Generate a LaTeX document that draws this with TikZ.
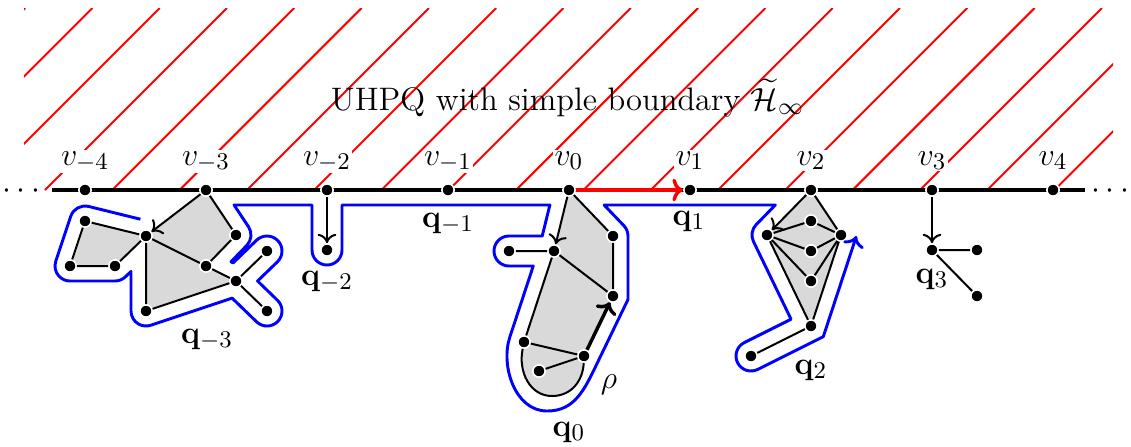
\documentclass[tikz,border=0pt]{standalone}
\usepackage{amsmath,amssymb}
\usetikzlibrary{arrows.meta,backgrounds}
\begin{document}
\begin{tikzpicture}[x=0.375pt,y=-0.375pt,
  font=\fontsize{13}{15}\selectfont,
  dot/.style={circle,fill=black,draw=white,line width=0.6pt,inner sep=0pt,minimum size=4.6pt},
  edge/.style={line width=0.75pt},
  arr/.style={line width=0.75pt,-{To[length=3.5pt,width=7pt]}},
  thickarr/.style={line width=1.3pt,-{To[length=4pt,width=8.5pt]}},
  hatch/.style={red,line width=0.75pt},
  face/.style={fill=black!15},
  contour/.style={blue,line width=1.1pt,line join=round},
  vlab/.style={anchor=base,fill=white,inner sep=0.5pt},
  qlab/.style={anchor=base,inner sep=0pt}]
\useasboundingbox (0,0) rectangle (1131,446);

% hatching of the upper half plane
\begin{scope}
  \clip (24,8) rectangle (1113,190);
  \foreach \k in {0,...,18}{
    \pgfmathsetmacro{\hc}{33.1+67.3*\k}
    \draw[hatch] ({\hc-190},190) -- ({\hc-8},8);
  }
\end{scope}

\node[anchor=base,font=\fontsize{12.2}{14}\selectfont] (title) at (567.5,110) {UHPQ with simple boundary $\widetilde{\mathcal{H}}_\infty$};

% boundary line
\coordinate (bl) at (52,190);
\coordinate (br) at (1085,190);
\draw[line width=1.25pt] (bl) -- (br);
\node[anchor=base,inner sep=0pt] (ldots) at (24,198) {$\cdots$};
\node[anchor=base,inner sep=0pt] (rdots) at (1113,198) {$\cdots$};

% boundary vertices
\foreach \n/\x/\l in {vm4/85/-4, vm3/206/-3, vm2/327/-2, vm1/448/-1, v0/569/0, v1/690/1, v2/811/2, v3/932/3, v4/1053/4}{
  \node[vlab] (lab\n) at (\x,165) {$v_{\l}$};
  \node[dot] (\n) at (\x,190) {};
}

% q_{-3}
\node[dot] (A) at (85,221) {};
\node[dot] (B) at (146,236) {};
\node[dot] (C) at (70,266) {};
\node[dot] (D) at (115,266) {};
\node[dot] (E) at (236,235) {};
\node[dot] (F) at (206,266) {};
\node[dot] (G) at (236,281) {};
\node[dot] (H) at (267,251) {};
\node[dot] (I) at (267,311) {};
\node[dot] (J) at (146,311) {};
% q_{-2}
\node[dot] (Z) at (327,250) {};
% q_0
\node[dot] (K) at (554,251) {};
\node[dot] (L) at (509,251) {};
\node[dot] (M) at (613,236) {};
\node[dot] (N) at (613,296) {};
\node[dot] (O) at (524,342) {};
\node[dot] (P) at (584,356) {};
\node[dot] (Q) at (539,371) {};
% q_2
\node[dot] (R) at (767,235) {};
\node[dot] (S) at (841,235) {};
\node[dot] (T1) at (811,221) {};
\node[dot] (T2) at (811,251) {};
\node[dot] (T3) at (811,281) {};
\node[dot] (U) at (811,326) {};
\node[dot] (W) at (751,356) {};
% q_3
\node[dot] (X) at (932,250) {};
\node[dot] (Y1) at (977,250) {};
\node[dot] (Y2) at (977,296) {};

% faces
\begin{pgfonlayer}{background}
  \fill[face] (A.center) -- (B.center) -- (D.center) -- (C.center) -- cycle;
  \fill[face] (vm3.center) -- (E.center) -- (F.center) -- (B.center) -- cycle;
  \fill[face] (B.center) -- (F.center) -- (G.center) -- (J.center) -- cycle;
  \fill[face] (v0.center) -- (M.center) -- (N.center) -- (K.center) -- cycle;
  \fill[face] (K.center) -- (N.center) -- (P.center) -- (O.center) -- cycle;
  \fill[face] (O.center) .. controls (518,372) and (530,396) .. (552,396)
     .. controls (572,396) and (583,380) .. (P.center) -- cycle;
  \fill[face] (v2.center) -- (S.center) -- (U.center) -- (R.center) -- cycle;
\end{pgfonlayer}

% red arrow
\draw[red,thickarr] (v0) -- (v1);

% edges of q_{-3}
\draw[arr] (vm3) -- (B);
\draw[edge] (vm3) -- (E) (E) -- (F) (F) -- (B) (F) -- (G) (B) -- (A) (A) -- (C)
  (C) -- (D) (D) -- (B) (B) -- (J) (J) -- (G) (G) -- (H) (G) -- (I);
% q_{-2}
\draw[arr] (vm2) -- (Z);
% q_0
\draw[arr] (v0) -- (K);
\draw[edge] (v0) -- (M) (M) -- (N) (K) -- (N) (K) -- (L) (K) -- (O) (O) -- (P) (P) -- (Q);
\draw[edge] (O) .. controls (518,372) and (530,396) .. (552,396)
   .. controls (572,396) and (583,380) .. (P);
\draw[thickarr] (P) -- (N);
% q_2
\draw[arr] (v2) -- (R);
\draw[edge] (v2) -- (S) (R) -- (T1) (T1) -- (S) (R) -- (T2) (T2) -- (S)
  (R) -- (T3) (T3) -- (S) (R) -- (U) (U) -- (S) (U) -- (W);
% q_3
\draw[arr] (v3) -- (X);
\draw[edge] (X) -- (Y1) (X) -- (Y2);

% blue contour
\coordinate (cstart) at (140.4,219.2);
\coordinate (cend) at (856.4,236);
\draw[contour,-{To[length=4pt,width=8pt]}] (cstart)
  -- (88.58,206.43) arc[start angle=-76.2,end angle=-161.6,radius=15]
  -- (55.77,261.26) arc[start angle=-161.6,end angle=-270,radius=15]
  -- (115,281) arc[start angle=90,end angle=45.9,radius=15]
  -- (131,271.39) -- (131,311) arc[start angle=180,end angle=71.6,radius=15]
  -- (232.11,298.11) -- (256.57,321.78) arc[start angle=134.1,end angle=-45.9,radius=15]
  -- (257.57,281) -- (277.43,261.78) arc[start angle=45.9,end angle=-134.1,radius=15]
  -- (233.21,262.83) -- (231.01,261.73) -- (246.78,245.43) arc[start angle=44,end angle=-33.7,radius=15]
  -- (234.03,205) -- (312,205) -- (312,250) arc[start angle=180,end angle=0,radius=15]
  -- (342,205) -- (549.86,205) -- (542.24,236) -- (509,236) arc[start angle=-90,end angle=-270,radius=15]
  -- (533.26,266) -- (509.75,337.3)
  .. controls (500.4,365.8) and (515,411) .. (547,411)
  .. controls (575,411) and (584.5,389.5) .. (597.51,362.53)
  -- (628,299.45) -- (628,236) arc[start angle=0,end angle=-43.7,radius=15]
  -- (604.11,205) -- (775.35,205) -- (756.27,224.51) arc[start angle=-135.6,end angle=-205.8,radius=15]
  -- (791.05,319.2) -- (744.29,342.58) arc[start angle=-116.6,end angle=-296.6,radius=15]
  -- (823.3,336.62) -- (cend);

% labels
\node[qlab] (lqm3) at (207,343) {$\mathbf{q}_{-3}$};
\node[qlab] (lqm2) at (327,285) {$\mathbf{q}_{-2}$};
\node[qlab] (lqm1) at (448,227) {$\mathbf{q}_{-1}$};
\node[qlab] (lq0) at (569,436) {$\mathbf{q}_{0}$};
\node[qlab] (lq1) at (689,225) {$\mathbf{q}_{1}$};
\node[qlab] (lq2) at (811,374) {$\mathbf{q}_{2}$};
\node[qlab] (lq3) at (932,283) {$\mathbf{q}_{3}$};
\node[qlab] (lrho) at (609,388) {$\rho$};
\end{tikzpicture}
\end{document}
